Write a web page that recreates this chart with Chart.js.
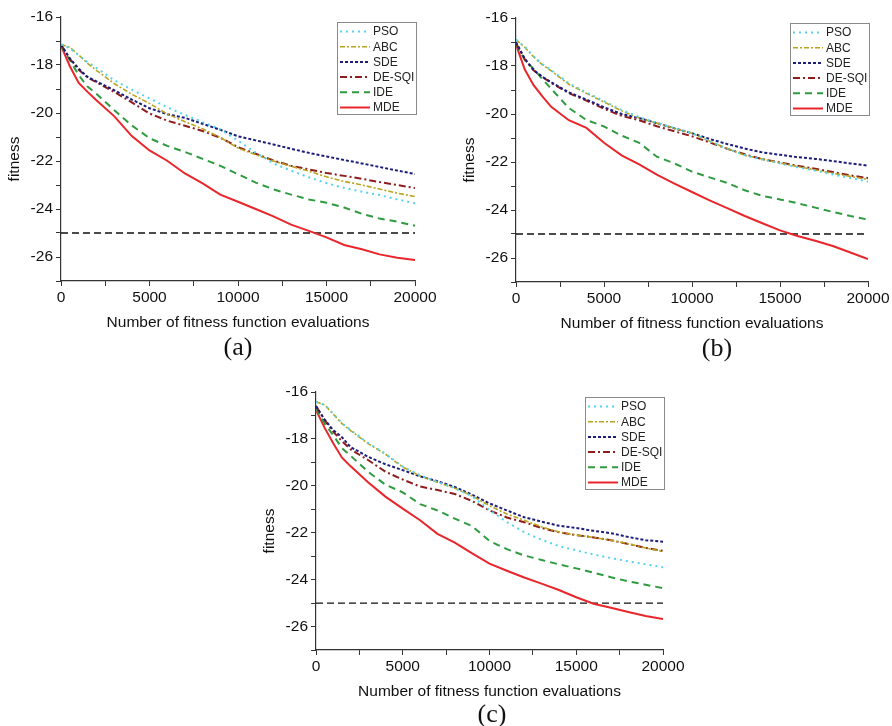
<!DOCTYPE html>
<html>
<head>
<meta charset="utf-8">
<script src="https://cdn.jsdelivr.net/npm/chart.js@4.4.1/dist/chart.umd.min.js"></script>
<style>
  html, body { margin: 0; padding: 0; background: #fff; }
  body { width: 892px; height: 726px; position: relative; overflow: hidden; }
  canvas { position: absolute; }
  .tag {
    position: absolute;
    font-family: "Liberation Serif", "Times New Roman", serif;
    font-size: 26px;
    line-height: 1;
    color: #111;
    transform: translate(-50%, -50%);
    white-space: nowrap;
  }
</style>
</head>
<body>
<canvas id="chartA" width="445" height="345" style="left:0px;top:0px"></canvas>
<canvas id="chartB" width="437" height="345" style="left:455px;top:0px"></canvas>
<canvas id="chartC" width="437" height="345" style="left:255px;top:375px"></canvas>
<div class="tag" style="left:238px;top:347px">(a)</div>
<div class="tag" style="left:717px;top:348px">(b)</div>
<div class="tag" style="left:492px;top:714px">(c)</div>

<script>
// Evaluation counts at which the best fitness was recorded
const evaluations = [0, 500, 1000, 1500, 2000, 3000, 4000, 5000, 6000, 7000, 8000, 9000,
  10000, 11000, 12000, 13000, 14000, 15000, 16000, 17000, 18000, 19000, 20000];

const algorithms = ['PSO', 'ABC', 'SDE', 'DE-SQI', 'IDE', 'MDE'];

// Target fitness level (reference line)
const targetFitness = -25;

const xTickStep = 2500;
const xLabelStep = 5000;
const yTickStep = 1;
const yLabelStep = 2;
const xRange = [0, 20000];
const yRange = [-27, -16];

const xTitle = 'Number of fitness function evaluations';
const yTitle = 'fitness';

// ---- Problem (a) ----
const psoA   = [-17.14, -17.3, -17.6, -17.88, -18.12, -18.63, -19.03, -19.39, -19.76, -20.08, -20.38, -20.68, -21.15, -21.65, -22.1, -22.4, -22.68, -22.92, -23.12, -23.28, -23.42, -23.6, -23.76];
const abcA   = [-17.14, -17.26, -17.58, -17.93, -18.22, -18.77, -19.22, -19.6, -20.04, -20.36, -20.66, -21.02, -21.46, -21.74, -22.0, -22.22, -22.42, -22.66, -22.85, -23.0, -23.17, -23.34, -23.48];
const sdeA   = [-17.15, -17.73, -18.15, -18.5, -18.68, -19.05, -19.44, -19.8, -20.05, -20.2, -20.45, -20.7, -20.97, -21.14, -21.31, -21.49, -21.66, -21.81, -21.96, -22.1, -22.25, -22.4, -22.54];
const desqiA = [-17.15, -17.75, -18.2, -18.52, -18.72, -19.12, -19.56, -20.02, -20.32, -20.53, -20.75, -21.03, -21.42, -21.7, -21.98, -22.2, -22.35, -22.5, -22.62, -22.74, -22.88, -23.0, -23.13];
const ideA   = [-17.2, -17.8, -18.42, -18.9, -19.2, -19.88, -20.52, -21.05, -21.37, -21.62, -21.91, -22.2, -22.55, -22.9, -23.18, -23.4, -23.6, -23.74, -23.94, -24.2, -24.4, -24.53, -24.7];
const mdeA   = [-17.2, -18.05, -18.75, -19.12, -19.47, -20.13, -20.96, -21.56, -21.99, -22.52, -22.93, -23.4, -23.7, -24.0, -24.31, -24.65, -24.91, -25.18, -25.5, -25.68, -25.89, -26.03, -26.13];

// ---- Problem (b) ----
const psoB   = [-16.9, -17.2, -17.6, -17.92, -18.17, -18.72, -19.1, -19.46, -19.83, -20.13, -20.36, -20.58, -20.8, -21.13, -21.44, -21.72, -21.9, -22.06, -22.22, -22.36, -22.52, -22.67, -22.81];
const abcB   = [-16.9, -17.22, -17.62, -17.95, -18.2, -18.76, -19.14, -19.5, -19.87, -20.17, -20.38, -20.6, -20.8, -21.13, -21.44, -21.72, -21.88, -22.04, -22.19, -22.33, -22.47, -22.6, -22.73];
const sdeB   = [-17.0, -17.7, -18.17, -18.45, -18.68, -19.1, -19.4, -19.72, -20.0, -20.17, -20.38, -20.6, -20.8, -21.04, -21.25, -21.44, -21.6, -21.7, -21.8, -21.87, -21.96, -22.06, -22.15];
const desqiB = [-17.05, -17.72, -18.18, -18.46, -18.7, -19.13, -19.44, -19.78, -20.08, -20.26, -20.51, -20.72, -20.93, -21.18, -21.45, -21.68, -21.88, -22.02, -22.16, -22.28, -22.42, -22.56, -22.67];
const ideB   = [-17.1, -17.75, -18.12, -18.55, -18.95, -19.75, -20.25, -20.52, -20.9, -21.2, -21.78, -22.06, -22.4, -22.64, -22.87, -23.18, -23.41, -23.56, -23.72, -23.9, -24.08, -24.25, -24.4];
const mdeB   = [-17.11, -18.15, -18.8, -19.27, -19.7, -20.26, -20.58, -21.2, -21.72, -22.1, -22.53, -22.9, -23.25, -23.6, -23.92, -24.25, -24.55, -24.85, -25.08, -25.28, -25.5, -25.77, -26.04];

// ---- Problem (c) ----
const psoC   = [-16.42, -16.55, -16.93, -17.33, -17.62, -18.17, -18.63, -19.18, -19.55, -19.83, -20.1, -20.45, -21.03, -21.55, -21.98, -22.3, -22.57, -22.75, -22.93, -23.08, -23.22, -23.35, -23.47];
const abcC   = [-16.42, -16.55, -16.95, -17.35, -17.65, -18.2, -18.65, -19.2, -19.58, -19.85, -20.1, -20.43, -20.85, -21.2, -21.47, -21.75, -21.97, -22.1, -22.2, -22.32, -22.47, -22.65, -22.8];
const sdeC   = [-16.6, -17.18, -17.63, -17.93, -18.35, -18.76, -19.08, -19.33, -19.6, -19.8, -20.05, -20.38, -20.75, -21.05, -21.34, -21.53, -21.7, -21.8, -21.92, -22.02, -22.18, -22.32, -22.38];
const desqiC = [-16.6, -17.2, -17.7, -18.1, -18.45, -18.9, -19.4, -19.73, -20.03, -20.18, -20.35, -20.65, -21.05, -21.35, -21.55, -21.8, -21.98, -22.1, -22.2, -22.32, -22.48, -22.65, -22.77];
const ideC   = [-16.7, -17.35, -17.85, -18.4, -18.72, -19.4, -19.95, -20.28, -20.78, -21.05, -21.4, -21.72, -22.35, -22.7, -22.97, -23.16, -23.35, -23.52, -23.7, -23.9, -24.07, -24.22, -24.36];
const mdeC   = [-16.76, -17.53, -18.2, -18.8, -19.17, -19.85, -20.46, -20.97, -21.47, -22.05, -22.42, -22.88, -23.32, -23.62, -23.91, -24.17, -24.44, -24.75, -25.03, -25.2, -25.38, -25.55, -25.68];

// Line appearance per algorithm
const lineStyles = {
  'PSO':    { color: '#52d4ee', dash: [2, 4],        width: 2 },
  'ABC':    { color: '#b9a41c', dash: [5, 2, 2, 2],  width: 1.6 },
  'SDE':    { color: '#1d1d7c', dash: [3, 2],        width: 2 },
  'DE-SQI': { color: '#8e1d1d', dash: [7, 3, 2, 3],  width: 2 },
  'IDE':    { color: '#2f9b3f', dash: [7, 5],        width: 2 },
  'MDE':    { color: '#e8262b', dash: [],            width: 2 }
};

const axisFont = { family: '"Liberation Sans", Arial, sans-serif', size: 15.5 };
const textColor = '#111';
const axisColor = '#333';

// Boxed legend drawn in the upper right corner of the plot area
const boxedLegend = {
  id: 'boxedLegend',
  afterDatasetsDraw(chart) {
    const { ctx, chartArea } = chart;
    const w = 79, h = 92, rowGap = 15.2;
    const left = chartArea.right - w + 1;
    const top = chartArea.top + 5;
    ctx.save();
    ctx.fillStyle = '#fff';
    ctx.fillRect(left, top, w, h);
    ctx.strokeStyle = '#8a8a8a';
    ctx.lineWidth = 1;
    ctx.setLineDash([]);
    ctx.strokeRect(left + 0.5, top + 0.5, w, h);
    ctx.font = '12px "Liberation Sans", Arial, sans-serif';
    ctx.textBaseline = 'middle';
    ctx.textAlign = 'left';
    chart.data.datasets.forEach((ds) => {
      const st = lineStyles[ds.label];
      if (!st) return;
      const i = algorithms.indexOf(ds.label);
      const y = top + 9.5 + i * rowGap;
      ctx.strokeStyle = st.color;
      ctx.lineWidth = st.width;
      ctx.setLineDash(st.dash);
      ctx.beginPath();
      ctx.moveTo(left + 3, y);
      ctx.lineTo(left + 33, y);
      ctx.stroke();
      ctx.setLineDash([]);
      ctx.fillStyle = '#222';
      ctx.fillText(ds.label, left + 36, y + 0.5);
    });
    ctx.restore();
  }
};

// Vertical axis title, set a little below the middle of the axis
const sideTitle = {
  id: 'sideTitle',
  afterDraw(chart) {
    const { ctx, chartArea } = chart;
    ctx.save();
    ctx.translate(chartArea.left - 46, (chartArea.top + chartArea.bottom) / 2 + 10);
    ctx.rotate(-Math.PI / 2);
    ctx.font = `${axisFont.size}px ${axisFont.family}`;
    ctx.fillStyle = textColor;
    ctx.textAlign = 'center';
    ctx.textBaseline = 'middle';
    ctx.fillText(yTitle, 0, 0);
    ctx.restore();
  }
};

function buildChart(canvasId, seriesValues, pad) {
  const datasets = algorithms.map((name, i) => ({
    label: name,
    data: evaluations.map((e, k) => ({ x: e, y: seriesValues[i][k] })),
    borderColor: lineStyles[name].color,
    borderDash: lineStyles[name].dash,
    borderWidth: lineStyles[name].width,
    pointRadius: 0,
    fill: false,
    tension: 0
  }));
  datasets.push({
    label: 'target',
    data: [{ x: xRange[0], y: targetFitness }, { x: xRange[1], y: targetFitness }],
    borderColor: '#111',
    borderDash: [7, 4],
    borderWidth: 1.3,
    pointRadius: 0,
    fill: false
  });

  return new Chart(document.getElementById(canvasId), {
    type: 'line',
    data: { datasets },
    plugins: [boxedLegend, sideTitle],
    options: {
      responsive: false,
      animation: false,
      events: [],
      layout: { padding: { left: 0, top: pad.top, right: pad.right, bottom: pad.bottom } },
      plugins: { legend: { display: false }, tooltip: { enabled: false } },
      scales: {
        x: {
          type: 'linear',
          min: xRange[0],
          max: xRange[1],
          ticks: {
            stepSize: xTickStep,
            autoSkip: false,
            maxRotation: 0,
            padding: 2,
            color: textColor,
            font: axisFont,
            callback: (v) => (v % xLabelStep === 0 ? String(v) : '')
          },
          grid: { drawOnChartArea: false, drawTicks: true, tickLength: 5, color: axisColor },
          border: { color: axisColor, width: 1.2 },
          title: { display: true, text: xTitle, color: textColor, font: axisFont, padding: { top: 0, bottom: 0 } },
          afterFit: (scale) => { scale.height = 51; }
        },
        y: {
          type: 'linear',
          min: yRange[0],
          max: yRange[1],
          ticks: {
            stepSize: yTickStep,
            autoSkip: false,
            padding: 3,
            color: textColor,
            font: axisFont,
            callback: (v) => (v % yLabelStep === 0 ? String(v) : '')
          },
          grid: { drawOnChartArea: false, drawTicks: true, tickLength: 5, color: axisColor },
          border: { color: axisColor, width: 1.2 },
          afterFit: (scale) => { scale.width = 61; }
        }
      }
    }
  });
}

buildChart('chartA', [psoA, abcA, sdeA, desqiA, ideA, mdeA], { top: 17, right: 30, bottom: 13 });
buildChart('chartB', [psoB, abcB, sdeB, desqiB, ideB, mdeB], { top: 18, right: 24, bottom: 12 });
buildChart('chartC', [psoC, abcC, sdeC, desqiC, ideC, mdeC], { top: 17, right: 29, bottom: 19 });
</script>
</body>
</html>
